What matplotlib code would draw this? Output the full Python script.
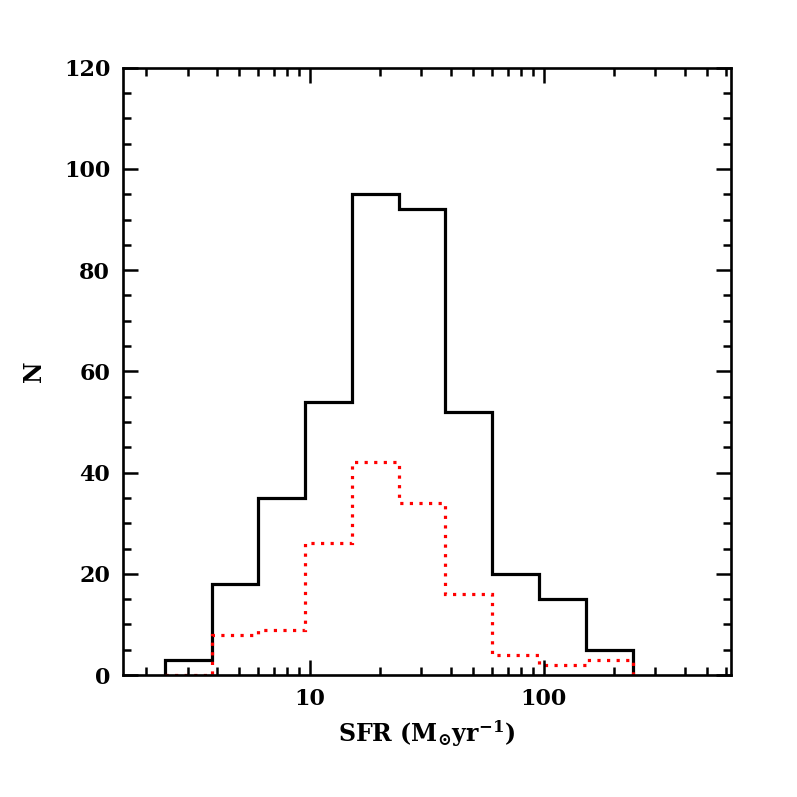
import numpy as np
import matplotlib
matplotlib.use("Agg")
import matplotlib.pyplot as plt
from matplotlib.ticker import LogLocator, FuncFormatter, MultipleLocator

# bin edges of the SFR histogram (0.2 dex wide)
sfr_edges = [2.40, 3.80, 6.03, 9.55, 15.14, 23.99, 38.0, 60.26, 95.5, 151.4, 239.9]
# counts, full sample
n_all = [3, 18, 35, 54, 95, 92, 52, 20, 15, 5]
# counts, subsample (red dotted)
n_sub = [0, 8, 9, 26, 42, 34, 16, 4, 2, 3]

plt.rcParams['font.family'] = ['DejaVu Serif']
plt.rcParams['font.weight'] = 'bold'
plt.rcParams['axes.labelweight'] = 'bold'
plt.rcParams['mathtext.fontset'] = 'dejavuserif'
plt.rcParams['mathtext.default'] = 'bf'

fig = plt.figure(figsize=(7.97, 7.97), dpi=100)
ax = fig.add_axes([0.154, 0.153, 0.763, 0.762])

ax.stairs(n_all, sfr_edges, color='black', lw=2.3, baseline=0)
ax.stairs(n_sub, sfr_edges, color='red', lw=2.3, linestyle=(0, (1, 2)), baseline=0)

ax.set_xscale('log')
ax.set_xlim(10**0.2, 10**2.8)
ax.set_ylim(0, 120)

ax.xaxis.set_major_locator(LogLocator(base=10))
ax.xaxis.set_minor_locator(LogLocator(base=10, subs=np.arange(2, 10)))
ax.xaxis.set_major_formatter(FuncFormatter(lambda v, p: '%d' % v))
ax.xaxis.set_minor_formatter(FuncFormatter(lambda v, p: ''))
ax.yaxis.set_major_locator(MultipleLocator(20))
ax.yaxis.set_minor_locator(MultipleLocator(5))

ax.tick_params(which='both', direction='in', top=True, right=True, width=1.8,
               labelsize=16, pad=9)
ax.tick_params(which='major', length=11)
ax.tick_params(which='minor', length=6)
for sp in ax.spines.values():
    sp.set_linewidth(1.9)

ax.set_xlabel(r'SFR (M$_{\odot}$yr$^{-1}$)', fontsize=17, labelpad=6)
ax.set_ylabel('N', fontsize=17, labelpad=13)

fig.savefig('out.png', dpi=100)
